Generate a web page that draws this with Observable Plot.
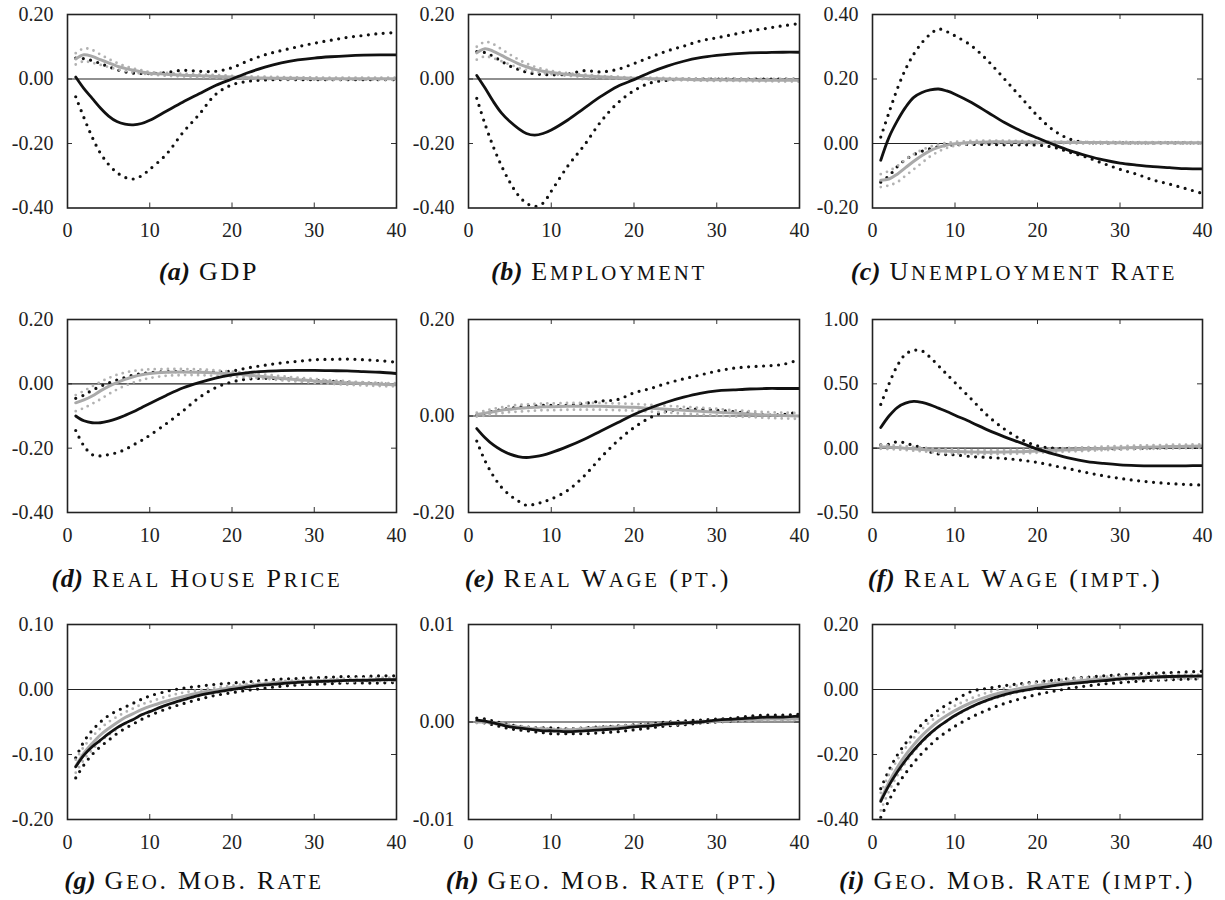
<!DOCTYPE html>
<html><head><meta charset="utf-8">
<script src="https://cdn.jsdelivr.net/npm/d3@7"></script>
<script src="https://cdn.jsdelivr.net/npm/@observablehq/plot@0.6"></script>
<style>
body{margin:0;background:#fff;}
#root{position:relative;width:1225px;height:900px;overflow:hidden;background:#fff;}
.panel{position:absolute;}
.cap{position:absolute;font-family:"Liberation Serif","Times New Roman",serif;font-size:26px;line-height:1;white-space:nowrap;transform:translateX(-50%);color:#111;}
.cap b{letter-spacing:0.5px;margin-right:2px;}
.cap .ttl{letter-spacing:2.8px;}
.cap .sc{font-size:0.8em;text-transform:uppercase;}
</style></head><body><div id="root"></div>
<script>
// horizon (quarters)
const periods = [1,2,3,4,5,6,7,8,9,10,12,14,16,18,20,22,24,26,28,30,32,34,36,38,40];
const xTickValues = [0,10,20,30,40];

// (a) GDP
const gdp_b_med = [0.006,-0.03,-0.06,-0.09,-0.115,-0.132,-0.14,-0.142,-0.138,-0.128,-0.10,-0.072,-0.046,-0.02,0.0,0.02,0.037,0.05,0.059,0.065,0.069,0.072,0.074,0.075,0.075];
const gdp_b_hi  = [0.065,0.063,0.057,0.048,0.038,0.029,0.022,0.018,0.017,0.017,0.02,0.027,0.024,0.024,0.035,0.057,0.075,0.088,0.10,0.111,0.12,0.129,0.135,0.141,0.144];
const gdp_b_lo  = [-0.055,-0.12,-0.18,-0.23,-0.265,-0.29,-0.305,-0.31,-0.30,-0.28,-0.234,-0.167,-0.11,-0.048,-0.018,-0.007,-0.003,-0.002,-0.002,-0.002,-0.002,-0.002,-0.002,-0.002,-0.002];
const gdp_g_med = [0.062,0.075,0.07,0.06,0.05,0.04,0.033,0.027,0.022,0.018,0.015,0.012,0.01,0.008,0.006,0.004,0.003,0.002,0.002,0.001,0.001,0.001,0.001,0.001,0.001];
const gdp_g_hi  = [0.08,0.095,0.09,0.076,0.062,0.05,0.04,0.033,0.027,0.022,0.019,0.016,0.014,0.012,0.01,0.008,0.007,0.006,0.005,0.005,0.004,0.004,0.004,0.004,0.004];
const gdp_g_lo  = [0.045,0.055,0.05,0.044,0.037,0.03,0.025,0.02,0.017,0.014,0.01,0.008,0.006,0.004,0.002,0.001,0.0,-0.001,-0.001,-0.002,-0.002,-0.002,-0.002,-0.002,-0.002];

// (b) Employment
const emp_b_med = [0.011,-0.028,-0.07,-0.106,-0.132,-0.153,-0.169,-0.174,-0.169,-0.158,-0.127,-0.09,-0.054,-0.023,-0.002,0.021,0.04,0.055,0.066,0.073,0.078,0.081,0.082,0.083,0.083];
const emp_b_hi  = [0.085,0.082,0.07,0.055,0.04,0.03,0.021,0.016,0.014,0.013,0.015,0.026,0.022,0.03,0.048,0.068,0.087,0.102,0.118,0.128,0.138,0.149,0.157,0.165,0.172];
const emp_b_lo  = [-0.06,-0.14,-0.21,-0.27,-0.32,-0.36,-0.385,-0.395,-0.385,-0.348,-0.27,-0.205,-0.132,-0.075,-0.036,-0.012,-0.004,-0.001,0.0,0.0,0.0,0.0,0.0,0.0,0.0];
const emp_g_med = [0.081,0.094,0.086,0.073,0.06,0.048,0.038,0.03,0.024,0.02,0.014,0.01,0.007,0.004,0.002,0.001,0.0,-0.001,-0.002,-0.002,-0.003,-0.003,-0.004,-0.004,-0.004];
const emp_g_hi  = [0.10,0.115,0.108,0.092,0.076,0.061,0.048,0.038,0.031,0.025,0.018,0.014,0.01,0.007,0.005,0.004,0.003,0.002,0.001,0.001,0.001,0.0,0.0,0.0,0.0];
const emp_g_lo  = [0.06,0.07,0.064,0.055,0.045,0.035,0.028,0.022,0.018,0.015,0.01,0.006,0.003,0.001,0.0,-0.002,-0.003,-0.004,-0.005,-0.006,-0.006,-0.007,-0.007,-0.008,-0.008];

// (c) Unemployment rate
const unr_b_med = [-0.052,0.019,0.07,0.112,0.143,0.158,0.166,0.169,0.163,0.153,0.127,0.096,0.065,0.039,0.017,-0.004,-0.023,-0.038,-0.051,-0.061,-0.067,-0.072,-0.075,-0.078,-0.079];
const unr_b_hi  = [0.02,0.096,0.169,0.23,0.277,0.313,0.339,0.355,0.347,0.334,0.303,0.256,0.2,0.143,0.086,0.04,0.013,0.003,0.002,0.002,0.002,0.002,0.002,0.002,0.002];
const unr_b_lo  = [-0.12,-0.1,-0.072,-0.05,-0.035,-0.024,-0.016,-0.01,-0.006,-0.004,-0.003,-0.003,-0.004,-0.004,-0.005,-0.012,-0.028,-0.043,-0.062,-0.08,-0.095,-0.113,-0.126,-0.14,-0.155];
const unr_g_med = [-0.114,-0.11,-0.095,-0.075,-0.055,-0.037,-0.022,-0.012,-0.005,-0.001,0.003,0.005,0.005,0.005,0.004,0.004,0.003,0.003,0.003,0.002,0.002,0.002,0.002,0.002,0.002];
const unr_g_hi  = [-0.095,-0.085,-0.07,-0.05,-0.033,-0.02,-0.01,-0.003,0.002,0.005,0.008,0.009,0.009,0.008,0.007,0.006,0.006,0.005,0.005,0.005,0.004,0.004,0.004,0.004,0.004];
const unr_g_lo  = [-0.135,-0.13,-0.12,-0.10,-0.08,-0.06,-0.04,-0.025,-0.014,-0.007,-0.001,0.001,0.001,0.001,0.001,0.001,0.0,0.0,0.0,0.0,0.0,0.0,0.0,0.0,0.0];

// (d) Real house price
const hpr_b_med = [-0.10,-0.115,-0.121,-0.121,-0.116,-0.108,-0.098,-0.087,-0.074,-0.061,-0.036,-0.013,0.004,0.018,0.028,0.035,0.039,0.041,0.042,0.042,0.041,0.04,0.038,0.036,0.032];
const hpr_b_hi  = [-0.045,-0.035,-0.02,-0.008,0.003,0.012,0.02,0.027,0.032,0.035,0.038,0.038,0.037,0.037,0.04,0.05,0.058,0.065,0.07,0.075,0.076,0.077,0.075,0.072,0.067];
const hpr_b_lo  = [-0.145,-0.193,-0.22,-0.224,-0.22,-0.214,-0.204,-0.19,-0.176,-0.16,-0.124,-0.085,-0.043,-0.012,0.006,0.015,0.017,0.016,0.014,0.011,0.008,0.005,0.002,0.0,-0.003];
const hpr_g_med = [-0.059,-0.05,-0.038,-0.022,-0.008,0.004,0.014,0.022,0.028,0.032,0.036,0.037,0.036,0.034,0.031,0.027,0.022,0.017,0.013,0.009,0.006,0.003,0.001,-0.001,-0.003];
const hpr_g_hi  = [-0.035,-0.022,-0.008,0.006,0.018,0.028,0.035,0.04,0.043,0.045,0.046,0.046,0.045,0.042,0.038,0.034,0.029,0.024,0.019,0.015,0.011,0.008,0.005,0.003,0.002];
const hpr_g_lo  = [-0.085,-0.075,-0.062,-0.048,-0.032,-0.018,-0.006,0.004,0.012,0.018,0.025,0.027,0.027,0.025,0.023,0.02,0.016,0.011,0.007,0.003,0.0,-0.003,-0.005,-0.007,-0.008];

// (e) Real wage (pt.)
const wpt_b_med = [-0.026,-0.045,-0.06,-0.071,-0.079,-0.084,-0.086,-0.084,-0.081,-0.076,-0.063,-0.048,-0.031,-0.014,0.003,0.017,0.029,0.039,0.047,0.052,0.054,0.056,0.057,0.057,0.057];
const wpt_b_hi  = [0.002,0.006,0.01,0.013,0.016,0.018,0.02,0.021,0.022,0.022,0.022,0.026,0.031,0.034,0.048,0.057,0.068,0.077,0.085,0.093,0.099,0.102,0.104,0.107,0.117];
const wpt_b_lo  = [-0.052,-0.093,-0.124,-0.148,-0.164,-0.176,-0.185,-0.183,-0.178,-0.172,-0.154,-0.124,-0.086,-0.052,-0.024,-0.003,0.01,0.014,0.014,0.012,0.009,0.006,0.002,0.003,0.009];
const wpt_g_med = [0.003,0.006,0.009,0.012,0.014,0.016,0.017,0.018,0.019,0.019,0.02,0.02,0.02,0.019,0.018,0.016,0.014,0.012,0.01,0.008,0.006,0.004,0.002,0.001,0.0];
const wpt_g_hi  = [0.007,0.011,0.015,0.018,0.021,0.023,0.024,0.025,0.026,0.026,0.027,0.027,0.027,0.026,0.025,0.023,0.021,0.019,0.017,0.015,0.012,0.01,0.008,0.007,0.006];
const wpt_g_lo  = [-0.001,0.001,0.004,0.006,0.008,0.009,0.01,0.011,0.012,0.012,0.013,0.013,0.013,0.012,0.011,0.009,0.007,0.005,0.003,0.001,-0.001,-0.002,-0.004,-0.005,-0.006];

// (f) Real wage (impt.)
const wim_b_med = [0.16,0.25,0.316,0.35,0.363,0.355,0.337,0.311,0.285,0.256,0.2,0.14,0.088,0.041,-0.008,-0.047,-0.08,-0.104,-0.119,-0.13,-0.135,-0.137,-0.137,-0.137,-0.135];
const wim_b_hi  = [0.34,0.5,0.64,0.73,0.76,0.756,0.705,0.64,0.575,0.51,0.38,0.25,0.148,0.07,0.018,0.0,-0.004,-0.005,-0.004,-0.002,0.0,0.002,0.004,0.005,0.006];
const wim_b_lo  = [0.026,0.03,0.05,0.04,0.02,0.005,-0.03,-0.045,-0.05,-0.052,-0.065,-0.072,-0.08,-0.093,-0.111,-0.137,-0.163,-0.19,-0.215,-0.235,-0.252,-0.265,-0.275,-0.282,-0.287];
const wim_g_med = [0.01,0.008,0.005,0.0,-0.005,-0.01,-0.015,-0.02,-0.023,-0.026,-0.03,-0.031,-0.03,-0.027,-0.022,-0.017,-0.012,-0.007,-0.002,0.002,0.006,0.009,0.012,0.014,0.016];
const wim_g_hi  = [0.025,0.023,0.02,0.015,0.01,0.005,0.0,-0.005,-0.008,-0.011,-0.015,-0.016,-0.015,-0.012,-0.008,-0.003,0.002,0.007,0.012,0.016,0.02,0.023,0.026,0.028,0.03];
const wim_g_lo  = [-0.005,-0.007,-0.01,-0.015,-0.02,-0.025,-0.03,-0.035,-0.038,-0.041,-0.045,-0.046,-0.045,-0.042,-0.036,-0.031,-0.026,-0.021,-0.016,-0.012,-0.008,-0.005,-0.002,0.0,0.002];

// (g) Geo. mob. rate
const gmr_b_med = [-0.119,-0.101,-0.088,-0.078,-0.068,-0.059,-0.052,-0.046,-0.039,-0.034,-0.024,-0.016,-0.009,-0.004,0.0,0.004,0.007,0.009,0.011,0.012,0.013,0.014,0.014,0.015,0.015];
const gmr_b_hi  = [-0.105,-0.08,-0.063,-0.05,-0.04,-0.033,-0.027,-0.021,-0.015,-0.01,-0.003,0.002,0.005,0.008,0.01,0.012,0.014,0.016,0.017,0.018,0.019,0.02,0.02,0.021,0.021];
const gmr_b_lo  = [-0.136,-0.116,-0.10,-0.088,-0.078,-0.068,-0.06,-0.053,-0.046,-0.04,-0.03,-0.022,-0.015,-0.009,-0.005,-0.001,0.002,0.005,0.007,0.008,0.009,0.01,0.01,0.01,0.011];
const gmr_g_med = [-0.118,-0.098,-0.083,-0.07,-0.06,-0.051,-0.043,-0.037,-0.031,-0.026,-0.018,-0.011,-0.005,-0.001,0.003,0.006,0.009,0.011,0.012,0.013,0.014,0.014,0.015,0.015,0.015];
const gmr_g_hi  = [-0.108,-0.088,-0.073,-0.06,-0.05,-0.042,-0.035,-0.029,-0.023,-0.019,-0.011,-0.005,-0.001,0.003,0.006,0.009,0.011,0.013,0.014,0.015,0.016,0.017,0.017,0.018,0.018];
const gmr_g_lo  = [-0.128,-0.108,-0.093,-0.08,-0.07,-0.061,-0.053,-0.046,-0.04,-0.034,-0.025,-0.017,-0.01,-0.005,-0.001,0.003,0.006,0.008,0.01,0.011,0.012,0.012,0.013,0.013,0.013];

// (h) Geo. mob. rate (pt.)
const gpt_b_med = [0.0002,0.0001,-0.0001,-0.0003,-0.0005,-0.0006,-0.0007,-0.0008,-0.0009,-0.0009,-0.001,-0.0009,-0.0008,-0.0007,-0.0005,-0.0004,-0.0002,-0.0001,0.0,0.0002,0.0003,0.0004,0.0005,0.0005,0.0006];
const gpt_b_hi  = [0.0004,0.0003,0.0001,-0.0001,-0.0003,-0.0004,-0.0005,-0.0006,-0.0006,-0.0006,-0.0007,-0.0006,-0.0005,-0.0004,-0.0003,-0.0002,0.0,0.0001,0.0002,0.0003,0.0004,0.0006,0.0007,0.0007,0.0008];
const gpt_b_lo  = [0.0,-0.0001,-0.0003,-0.0005,-0.0007,-0.0008,-0.0009,-0.001,-0.0011,-0.0012,-0.0012,-0.0012,-0.0011,-0.001,-0.0008,-0.0006,-0.0004,-0.0003,-0.0001,0.0,0.0001,0.0002,0.0003,0.0003,0.0004];
const gpt_g_med = [0.0,0.0,-0.0001,-0.0002,-0.0004,-0.0005,-0.0006,-0.0007,-0.0007,-0.0008,-0.0008,-0.0007,-0.0006,-0.0005,-0.0004,-0.0003,-0.0002,-0.0001,0.0,0.0001,0.0002,0.0002,0.0003,0.0003,0.0003];
const gpt_g_hi  = [0.0001,0.0001,0.0,-0.0001,-0.0003,-0.0004,-0.0005,-0.0006,-0.0006,-0.0007,-0.0007,-0.0006,-0.0005,-0.0004,-0.0003,-0.0002,-0.0001,0.0,0.0001,0.0002,0.0003,0.0003,0.0004,0.0004,0.0004];
const gpt_g_lo  = [-0.0001,-0.0001,-0.0002,-0.0003,-0.0005,-0.0006,-0.0007,-0.0008,-0.0008,-0.0009,-0.0009,-0.0008,-0.0007,-0.0006,-0.0005,-0.0004,-0.0003,-0.0002,-0.0001,0.0,0.0001,0.0001,0.0002,0.0002,0.0002];

// (i) Geo. mob. rate (impt.)
const gim_b_med = [-0.344,-0.295,-0.254,-0.218,-0.187,-0.159,-0.135,-0.114,-0.097,-0.08,-0.053,-0.032,-0.016,-0.004,0.004,0.012,0.018,0.023,0.027,0.032,0.035,0.038,0.04,0.041,0.042];
const gim_b_hi  = [-0.305,-0.248,-0.202,-0.166,-0.135,-0.107,-0.084,-0.063,-0.047,-0.032,-0.006,0.004,0.012,0.018,0.024,0.029,0.034,0.038,0.042,0.045,0.048,0.05,0.052,0.054,0.056];
const gim_b_lo  = [-0.393,-0.341,-0.295,-0.258,-0.225,-0.196,-0.171,-0.148,-0.13,-0.113,-0.085,-0.062,-0.043,-0.028,-0.015,-0.005,0.004,0.011,0.017,0.021,0.025,0.028,0.03,0.032,0.033];
const gim_g_med = [-0.34,-0.285,-0.24,-0.202,-0.17,-0.142,-0.118,-0.097,-0.08,-0.065,-0.04,-0.021,-0.007,0.004,0.012,0.019,0.024,0.029,0.032,0.035,0.037,0.038,0.039,0.04,0.04];
const gim_g_hi  = [-0.318,-0.262,-0.217,-0.18,-0.149,-0.122,-0.099,-0.08,-0.064,-0.05,-0.027,-0.009,0.004,0.014,0.021,0.027,0.032,0.036,0.039,0.041,0.043,0.044,0.045,0.046,0.046];
const gim_g_lo  = [-0.372,-0.313,-0.265,-0.226,-0.192,-0.163,-0.138,-0.116,-0.097,-0.082,-0.055,-0.034,-0.019,-0.007,0.003,0.011,0.017,0.022,0.026,0.029,0.031,0.032,0.033,0.034,0.034];

// panel labels and y-axis definitions
const panelLetters = ["a","b","c","d","e","f","g","h","i"];
const panelTitles = ["GDP","Employment","Unemployment Rate","Real House Price","Real Wage (pt.)","Real Wage (impt.)","Geo. Mob. Rate","Geo. Mob. Rate (pt.)","Geo. Mob. Rate (impt.)"];
const yDomains = [[-0.4,0.2],[-0.4,0.2],[-0.2,0.4],[-0.4,0.2],[-0.2,0.2],[-0.5,1.0],[-0.2,0.1],[-0.01,0.01],[-0.4,0.2]];
const yTickValues = [
  [-0.4,-0.2,0,0.2],[-0.4,-0.2,0,0.2],[-0.2,0,0.2,0.4],
  [-0.4,-0.2,0,0.2],[-0.2,0,0.2],[-0.5,0,0.5,1.0],
  [-0.2,-0.1,0,0.1],[-0.01,0,0.01],[-0.4,-0.2,0,0.2]
];
const seriesSets = [
  [gdp_b_med,gdp_b_hi,gdp_b_lo,gdp_g_med,gdp_g_hi,gdp_g_lo],
  [emp_b_med,emp_b_hi,emp_b_lo,emp_g_med,emp_g_hi,emp_g_lo],
  [unr_b_med,unr_b_hi,unr_b_lo,unr_g_med,unr_g_hi,unr_g_lo],
  [hpr_b_med,hpr_b_hi,hpr_b_lo,hpr_g_med,hpr_g_hi,hpr_g_lo],
  [wpt_b_med,wpt_b_hi,wpt_b_lo,wpt_g_med,wpt_g_hi,wpt_g_lo],
  [wim_b_med,wim_b_hi,wim_b_lo,wim_g_med,wim_g_hi,wim_g_lo],
  [gmr_b_med,gmr_b_hi,gmr_b_lo,gmr_g_med,gmr_g_hi,gmr_g_lo],
  [gpt_b_med,gpt_b_hi,gpt_b_lo,gpt_g_med,gpt_g_hi,gpt_g_lo],
  [gim_b_med,gim_b_hi,gim_b_lo,gim_g_med,gim_g_hi,gim_g_lo]
];

// layout (pixels)
const frameLeft = [67, 468, 872];
const frameWidth = [329, 331, 330];
const frameTop = [13.5, 319, 623.5];
const frameHeight = [193.5, 193, 195];
const captionCenter = [209, 599, 1014, 197, 598, 1015, 194, 612, 1017];
const captionTop = [259, 566, 868];

const ML = 70, MR = 14, MT = 8, MB = 40;
const root = document.getElementById("root");

const BLACK = "#111";
const GRAY = "#a9a9a9";
const GRAYDOT = "#b2b2b2";

function buildTitle(el, text) {
  // lowercase runs are set as small capitals, the rest at full size
  text.split(/([a-z]+)/).forEach((part, i) => {
    if (!part) return;
    if (i % 2 === 1) {
      const s = document.createElement("span");
      s.className = "sc";
      s.textContent = part;
      el.appendChild(s);
    } else {
      el.appendChild(document.createTextNode(part));
    }
  });
}

for (let k = 0; k < 9; k++) {
  const col = k % 3, row = Math.floor(k / 3);
  const W = frameWidth[col], H = frameHeight[row];
  const toRows = arr => periods.map((t, i) => ({t, v: arr[i]}));
  const [bm, bh, bl, gm, gh, gl] = seriesSets[k].map(toRows);
  const dom = yDomains[k];
  const innerY = yTickValues[k].filter(v => v > dom[0] + 1e-9 && v < dom[1] - 1e-9);
  const innerX = [10, 20, 30];
  const dotB = {x: "t", y: "v", stroke: BLACK, strokeWidth: 3.2, strokeDasharray: "0 7.5", strokeLinecap: "round", curve: "catmull-rom", clip: true};
  const dotG = {x: "t", y: "v", stroke: GRAYDOT, strokeWidth: 2.8, strokeDasharray: "0 6.5", strokeLinecap: "round", curve: "catmull-rom", clip: true};
  const plot = Plot.plot({
    width: ML + W + MR, height: MT + H + MB,
    marginLeft: ML, marginRight: MR, marginTop: MT, marginBottom: MB,
    style: {fontFamily: "'Liberation Serif', 'Times New Roman', serif", fontSize: "20px", color: "#222", background: "transparent", overflow: "visible"},
    x: {domain: [0, 40]},
    y: {domain: dom},
    marks: [
      Plot.axisX({ticks: xTickValues, tickSize: 0, tickPadding: 15, tickFormat: d => String(d), label: null, fontSize: 20}),
      Plot.axisY({ticks: yTickValues[k], tickSize: 0, tickPadding: 14, tickFormat: d => d.toFixed(2), label: null, fontSize: 20}),
      Plot.tickX(innerX, {x: d => d, insetTop: H - 5, stroke: "#333", strokeWidth: 1}),
      Plot.tickX(innerX, {x: d => d, insetBottom: H - 5, stroke: "#333", strokeWidth: 1}),
      Plot.tickY(innerY, {y: d => d, insetRight: W - 5, stroke: "#333", strokeWidth: 1}),
      Plot.tickY(innerY, {y: d => d, insetLeft: W - 5, stroke: "#333", strokeWidth: 1}),
      Plot.ruleY([0], {stroke: "#222", strokeWidth: 1.1}),
      Plot.line(bh, dotB),
      Plot.line(bl, dotB),
      Plot.line(gh, dotG),
      Plot.line(gl, dotG),
      Plot.line(gm, {x: "t", y: "v", stroke: GRAY, strokeWidth: 3, curve: "catmull-rom", clip: true}),
      Plot.line(bm, {x: "t", y: "v", stroke: BLACK, strokeWidth: 2.8, curve: "catmull-rom", clip: true}),
      Plot.frame({stroke: "#222", strokeWidth: 1.6})
    ]
  });
  const wrap = document.createElement("div");
  wrap.className = "panel";
  wrap.style.left = (frameLeft[col] - ML) + "px";
  wrap.style.top = (frameTop[row] - MT) + "px";
  wrap.appendChild(plot);
  root.appendChild(wrap);

  const cap = document.createElement("div");
  cap.className = "cap";
  cap.style.left = captionCenter[k] + "px";
  cap.style.top = captionTop[row] + "px";
  const b = document.createElement("b");
  const it = document.createElement("i");
  it.textContent = "(" + panelLetters[k] + ")";
  b.appendChild(it);
  cap.appendChild(b);
  cap.appendChild(document.createTextNode(" "));
  const ttl = document.createElement("span");
  ttl.className = "ttl";
  buildTitle(ttl, panelTitles[k]);
  cap.appendChild(ttl);
  root.appendChild(cap);
}
</script></body></html>
